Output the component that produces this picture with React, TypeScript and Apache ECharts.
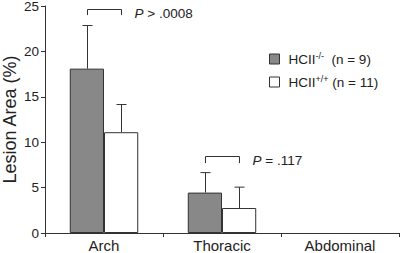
import React, { useEffect, useRef } from "react";
import * as echarts from "echarts";

const categories = ["Arch", "Thoracic", "Abdominal"];
const koValues = [18.1, 4.45, null];
const koErrTop = [22.85, 6.65, null];
const wtValues = [11.1, 2.75, null];
const wtErrTop = [14.15, 5.05, null];
const yTicks = [0, 5, 10, 15, 20, 25];
// [categoryIndex, bracketTop, bracketBottom, label]
const brackets: [number, number, number, string][] = [
  [0, 24.65, 24.0, "> .0008"],
  [1, 8.5, 7.7, "= .117"],
];

const FONT = "'Liberation Sans', Arial, sans-serif";
const GAP = 0.42;
const offFrac = (1 - GAP) / 4;
const LINE = "#333";

export default function App() {
  const ref = useRef<HTMLDivElement>(null);
  useEffect(() => {
    if (!ref.current) return;
    const chart = echarts.init(ref.current, null, { renderer: "svg" });

    const errSeries = (name: string, vals: any[], tops: any[], sign: number) => ({
      type: "custom",
      name,
      z: 5,
      data: vals
        .map((v, i) => (v == null ? null : [i, v, tops[i]]))
        .filter((d) => d != null),
      renderItem: (params: any, api: any) => {
        const band = api.size([1, 0])[0];
        const dx = sign * band * offFrac;
        const p0 = api.coord([api.value(0), api.value(1)]);
        const p1 = api.coord([api.value(0), api.value(2)]);
        const x = Math.round(p0[0] + dx) + 0.5;
        const cap = 5;
        return {
          type: "group",
          children: [
            { type: "line", shape: { x1: x, y1: p0[1], x2: x, y2: p1[1] }, style: { stroke: LINE, lineWidth: 1 } },
            { type: "line", shape: { x1: x - cap, y1: p1[1], x2: x + cap, y2: p1[1] }, style: { stroke: LINE, lineWidth: 1 } },
          ],
        };
      },
    });

    chart.setOption({
      animation: false,
      grid: { left: 45, right: 1, top: 6, bottom: 20, containLabel: false, outerBoundsMode: "none" },
      legend: {
        data: ["ko", "wt"],
        orient: "vertical",
        left: 264,
        top: 46,
        itemWidth: 10,
        itemHeight: 10,
        itemGap: 5,
        icon: "rect",
        itemStyle: { borderColor: LINE, borderWidth: 1 },
        formatter: (name: string) =>
          name === "ko"
            ? "{a|HCII}{s|-/-}{b|  (n = 9)}"
            : "{a|HCII}{s|+/+}{b| (n = 11)}",
        textStyle: {
          fontFamily: FONT,
          color: "#222",
          rich: {
            a: { fontFamily: FONT, fontSize: 13.5, color: "#222", padding: [0, 0, 0, 4], lineHeight: 16 },
            s: { fontFamily: FONT, fontSize: 9, color: "#222", verticalAlign: "top", lineHeight: 16, padding: [0, 0, 9, 0] },
            b: { fontFamily: FONT, fontSize: 13.5, color: "#222", lineHeight: 16 },
          },
        },
      },
      xAxis: {
        type: "category",
        data: categories,
        axisLine: { lineStyle: { color: LINE, width: 1 } },
        axisTick: { show: true, alignWithLabel: false, length: 4, lineStyle: { color: LINE } },
        axisLabel: { fontFamily: FONT, fontSize: 15, color: "#222", margin: 5, lineHeight: 14 },
        splitLine: { show: false },
      },
      yAxis: {
        type: "value",
        min: 0,
        max: 25,
        interval: 5,
        name: "Lesion Area (%)",
        nameLocation: "middle",
        nameRotate: 90,
        nameGap: 26,
        nameMoveOverlap: false,
        nameTextStyle: { fontFamily: FONT, fontSize: 18, color: "#222" },
        axisLine: { show: true, lineStyle: { color: LINE, width: 1 } },
        axisTick: { show: true, length: 4, lineStyle: { color: LINE } },
        axisLabel: {
          fontFamily: FONT,
          fontSize: 13.5,
          color: "#222",
          margin: 6,
          formatter: (v: number) => (yTicks.includes(v) ? String(v) : ""),
        },
        splitLine: { show: false },
      },
      series: [
        {
          type: "bar",
          name: "ko",
          data: koValues,
          barGap: "0%",
          barCategoryGap: GAP * 100 + "%",
          itemStyle: { color: "#888888", borderColor: LINE, borderWidth: 1 },
        },
        {
          type: "bar",
          name: "wt",
          data: wtValues,
          barGap: "0%",
          barCategoryGap: GAP * 100 + "%",
          itemStyle: { color: "#ffffff", borderColor: LINE, borderWidth: 1 },
        },
        errSeries("koErr", koValues, koErrTop, -1),
        errSeries("wtErr", wtValues, wtErrTop, 1),
        {
          type: "custom",
          name: "brackets",
          z: 5,
          data: brackets.map((b) => [b[0], b[1], b[2], b[3]]),
          renderItem: (params: any, api: any) => {
            const band = api.size([1, 0])[0];
            const dx = band * offFrac;
            const pt = api.coord([api.value(0), api.value(1)]);
            const pb = api.coord([api.value(0), api.value(2)]);
            const xl = Math.round(pt[0] - dx) + 0.5;
            const xr = Math.round(pt[0] + dx) + 0.5;
            const yt = Math.round(pt[1]) + 0.5;
            const label = brackets[params.dataIndex][3];
            return {
              type: "group",
              children: [
                {
                  type: "polyline",
                  shape: { points: [[xl, pb[1]], [xl, yt], [xr, yt], [xr, pb[1]]] },
                  style: { stroke: LINE, lineWidth: 1, fill: "none" },
                },
                {
                  type: "text",
                  x: xr + 13,
                  y: yt + 4,
                  style: {
                    text: "{i|P}{n| " + label + "}",
                    verticalAlign: "middle",
                    align: "left",
                    rich: {
                      i: { fontFamily: FONT, fontSize: 13.5, fontStyle: "italic", fill: "#222" },
                      n: { fontFamily: FONT, fontSize: 13.5, fill: "#222" },
                    },
                  },
                },
              ],
            };
          },
        },
      ],
    });
    return () => chart.dispose();
  }, []);
  return <div ref={ref} style={{ width: 400, height: 253, position: "absolute", left: 0, top: 0 }} />;
}
